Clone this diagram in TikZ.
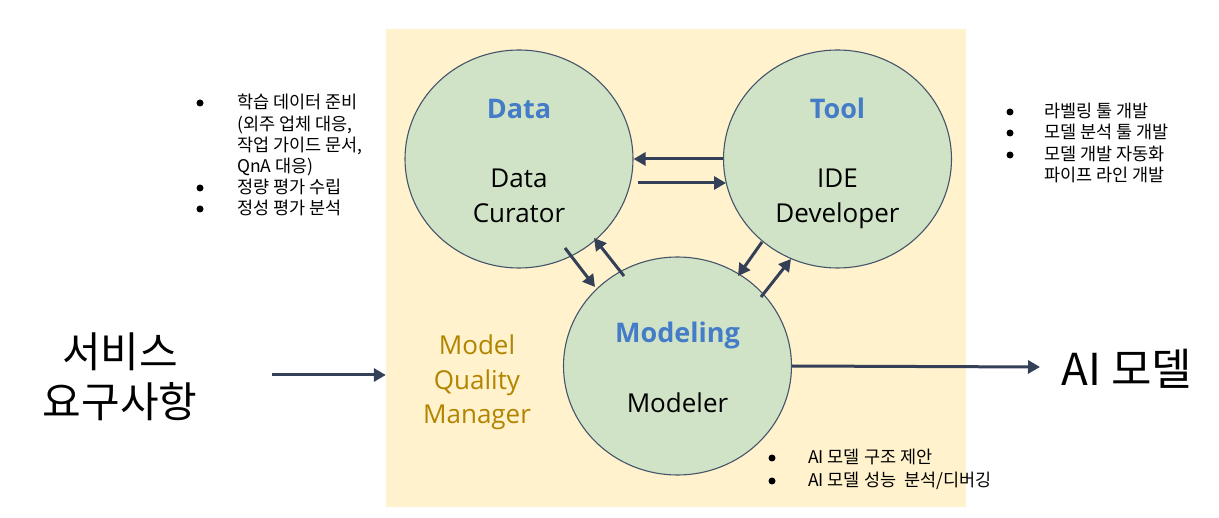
\documentclass[tikz,border=0pt]{standalone}
\usepackage{fontspec}
\setmainfont{Open Sans}
\newfontfamily\kr{Noto Sans CJK KR}
\usetikzlibrary{arrows.meta,shapes.geometric}
\definecolor{bgY}{RGB}{255,242,204}
\definecolor{cG}{RGB}{208,227,198}
\definecolor{edgeC}{RGB}{68,84,106}
\definecolor{arrC}{RGB}{52,64,88}
\definecolor{ttlB}{RGB}{68,124,200}
\definecolor{goldC}{RGB}{178,132,0}
\tikzset{
  bgbox/.style={fill=bgY, draw=none, inner sep=0, minimum width=580, minimum height=478},
  circ/.style={ellipse, draw=edgeC, fill=cG, line width=1.1pt, inner sep=0, minimum width=228, minimum height=218},
  ttl/.style={font=\bfseries\fontsize{27}{34}\selectfont, text=ttlB, anchor=base, inner sep=0},
  role/.style={font=\fontsize{26}{33}\selectfont, anchor=base, inner sep=0},
  mqm/.style={role, text=goldC},
  li/.style={font=\kr\fontsize{17.5}{21}\selectfont, anchor=base west, inner sep=0},
  dot/.style={circle, fill=black, minimum size=7, inner sep=0},
  big/.style={font=\kr\fontsize{42}{50}\selectfont, anchor=base, inner sep=0},
  conn/.style={draw=arrC, line width=3pt, -{Triangle[length=12pt,width=13pt]}}
}
\begin{document}
\begin{tikzpicture}[x=1pt,y=-1pt]
\useasboundingbox (0,0) rectangle (1219,518);
\node[bgbox] (bg) at (676,268) {};
% circles
\node[circ] (data) at (519,159) {};
\node[circ] (tool) at (837.5,159) {};
\node[circ] (model) at (677.5,366) {};
% circle texts
\node[ttl] (dataT) at (519,119) {Data};
\node[role] (dataR1) at (519,188) {Data};
\node[role] (dataR2) at (519,222.5) {Curator};
\node[ttl] (toolT) at (837.5,118.5) {Tool};
\node[role] (toolR1) at (837.5,187.5) {IDE};
\node[role] (toolR2) at (837.5,222.5) {Developer};
\node[ttl] (modelT) at (677.5,342.5) {Modeling};
\node[role] (modelR) at (677.5,412.5) {Modeler};
% model quality manager
\node[mqm] (mq1) at (477,355) {Model};
\node[mqm] (mq2) at (477,389.5) {Quality};
\node[mqm] (mq3) at (477,423.5) {Manager};
% big texts
\node[big] (req1) at (120,368) {서비스};
\node[big] (req2) at (120,418) {요구사항};
\node[big, font=\kr\fontsize{44}{50}\selectfont] (out) at (1127,386) {AI 모델};
% left list
\node[dot] (lb1) at (200,103) {};
\node[dot] (lb2) at (200,188) {};
\node[dot] (lb3) at (200,209) {};
\node[li] (l1) at (237,109) {학습 데이터 준비};
\node[li] (l2) at (237,130.2) {(외주 업체 대응,};
\node[li] (l3) at (237,151.4) {작업 가이드 문서,};
\node[li] (l4) at (237,172.6) {QnA 대응)};
\node[li] (l5) at (237,193.8) {정량 평가 수립};
\node[li] (l6) at (237,215) {정성 평가 분석};
% right list
\node[dot] (rb1) at (1010,112) {};
\node[dot] (rb2) at (1010,133) {};
\node[dot] (rb3) at (1010,155) {};
\node[li] (r1) at (1044,118) {라벨링 툴 개발};
\node[li] (r2) at (1044,139) {모델 분석 툴 개발};
\node[li] (r3) at (1044,161) {모델 개발 자동화};
\node[li] (r4) at (1044,182) {파이프 라인 개발};
% bottom list
\node[dot] (bb1) at (772,458) {};
\node[dot] (bb2) at (772,481) {};
\node[li] (b1) at (808,464) {AI 모델 구조 제안};
\node[li] (b2) at (808,487) {AI 모델 성능\ \ 분석/디버깅};
% connectors
\draw[conn] (tool.west) -- (data.east);
\draw[conn] ([shift={(119,24)}]data.center) -- ([shift={(-111.5,24)}]tool.center);
\draw[conn] ([shift={(46,89)}]data.center) -- ([shift={(-82.5,-79)}]model.center);
\draw[conn] ([shift={(-53.5,-90)}]model.center) -- ([shift={(75,79)}]data.center);
\draw[conn] ([shift={(-75.5,83)}]tool.center) -- ([shift={(60.5,-90)}]model.center);
\draw[conn] ([shift={(83.5,-69)}]model.center) -- ([shift={(-46.5,100)}]tool.center);
\coordinate (inStart) at (272,375);
\coordinate (outEnd) at (1040,367);
\draw[conn] (inStart) -- (bg.west |- inStart);
\draw[conn] (model.east) -- (outEnd);
\end{tikzpicture}
\end{document}
